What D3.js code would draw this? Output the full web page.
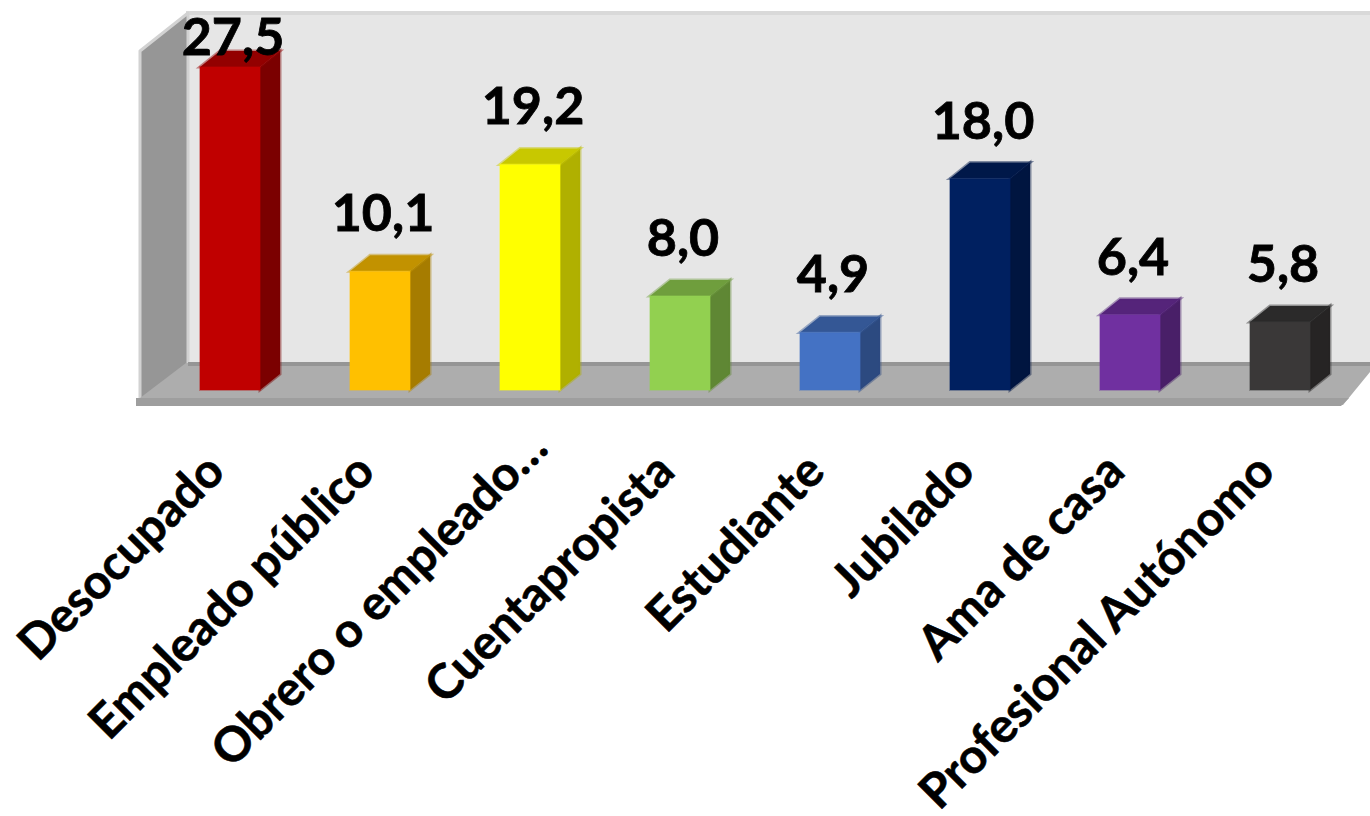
<!DOCTYPE html>
<html>
<head>
<meta charset="utf-8">
<script src="https://cdn.jsdelivr.net/npm/d3@7/dist/d3.min.js"></script>
<style>
  html, body { margin: 0; padding: 0; background: #fff; overflow: hidden; }
  svg { display: block; }
</style>
</head>
<body>
<div id="chart"></div>
<script>
const categories = ["Desocupado", "Empleado público", "Obrero o empleado…", "Cuentapropista", "Estudiante", "Jubilado", "Ama de casa", "Profesional Autónomo"]
const values = [27.5, 10.1, 19.2, 8.0, 4.9, 18.0, 6.4, 5.8]
const frontColors = ["#c00000", "#ffc000", "#ffff00", "#92d050", "#4472c4", "#002060", "#7030a0", "#3a3838"]
const sideColors = ["#7b0000", "#a67c00", "#b0b000", "#5f8734", "#2c4a80", "#001540", "#491f68", "#262424"]
const topColors = ["#930000", "#c29200", "#c8c800", "#6f9e3d", "#345795", "#001849", "#55247a", "#2b2a2a"]

const width = 1370
const height = 816
const dx = 20
const dy = 16

const data = categories.map((c, i) => ({
  category: c, value: values[i], front: frontColors[i], side: sideColors[i], top: topColors[i]
}))

const svg = d3.select("#chart").append("svg")
  .attr("width", width)
  .attr("height", height)

const x = d3.scaleBand()
  .domain(categories)
  .range([155, 1355])
  .paddingInner(0.6)
  .paddingOuter(0.3)

const y = d3.scaleLinear()
  .domain([0, 27.5])
  .range([390, 67])

// Walls and floor
const wall = svg.append("g")
wall.append("rect").attr("x", 186).attr("y", 11).attr("width", 1184).attr("height", 4).attr("fill", "#d9d9d9")
wall.append("rect").attr("x", 188).attr("y", 15).attr("width", 1182).attr("height", 348).attr("fill", "#e6e6e6")
wall.append("path")
  .attr("d", "M140,51 L188,13 L188,365 L140,403 Z")
  .attr("fill", "#969696")
  .attr("stroke", "#d2d2d2")
  .attr("stroke-width", 3)
  .attr("stroke-linejoin", "round")
wall.append("path")
  .attr("d", "M140,398 L186,363 L1370,363 L1370,372 L1343,405 L140,405 Z")
  .attr("fill", "#adadad")
wall.append("rect").attr("x", 188).attr("y", 362).attr("width", 1182).attr("height", 4).attr("fill", "#959595")
wall.append("path")
  .attr("d", "M136,398 L1349,398 L1341,406 L136,406 Z")
  .attr("fill", "#9e9e9e")

// Bars
const bars = svg.append("g").selectAll("g")
  .data(data)
  .join("g")

bars.append("path")
  .attr("fill", d => d.side)
  .attr("stroke", d => d.side)
  .attr("stroke-opacity", 0.45)
  .attr("stroke-width", 3)
  .attr("d", d => {
    const r = x(d.category) + x.bandwidth()
    return `M${r},${y(d.value)} l${dx},${-dy} L${r + dx},${y(0) - dy} L${r},${y(0)} Z`
  })

bars.append("path")
  .attr("fill", d => d.top)
  .attr("stroke", d => d.top)
  .attr("stroke-opacity", 0.45)
  .attr("stroke-width", 3)
  .attr("d", d => {
    const l = x(d.category)
    const r = l + x.bandwidth()
    return `M${l},${y(d.value)} l${dx},${-dy} L${r + dx},${y(d.value) - dy} L${r},${y(d.value)} Z`
  })

bars.append("rect")
  .attr("x", d => x(d.category))
  .attr("y", d => y(d.value))
  .attr("width", x.bandwidth())
  .attr("height", d => y(0) - y(d.value))
  .attr("fill", d => d.front)
  .attr("stroke", d => d.front)
  .attr("stroke-opacity", 0.35)
  .attr("stroke-width", 2)

// Value labels, kept inside the chart area like the tallest one
svg.append("g").selectAll("text")
  .data(data)
  .join("text")
  .attr("x", d => x(d.category) + x.bandwidth() / 2 + 3)
  .attr("y", d => Math.max(55, y(d.value) - 40))
  .attr("text-anchor", "middle")
  .attr("font-family", "Lato, 'Open Sans', sans-serif")
  .attr("font-weight", 700)
  .attr("font-size", "52px")
  .attr("fill", "#000")
  .attr("stroke", "#000")
  .attr("stroke-width", 0.8)
  .text(d => d3.format(".1f")(d.value).replace(".", ","))

// X-axis labels
const xAxisCall = d3.axisBottom(x).tickSize(0)

const xAxis = svg.append("g")
  .attr("transform", "translate(0, 390)")
  .call(xAxisCall)

xAxis.select(".domain").remove()

// the truncated label runs further up past its tick
xAxis.selectAll("text")
  .attr("x", d => d.endsWith("…") ? 33 : 0)
  .attr("y", 0)
  .attr("dy", "0.35em")
  .attr("text-anchor", "end")
  .attr("font-family", "Lato, 'Open Sans', sans-serif")
  .attr("font-weight", 700)
  .attr("font-size", "48px")
  .attr("fill", "#000")
  .attr("stroke", "#000")
  .attr("stroke-width", 0.6)
  .attr("transform", "translate(-15, 72) rotate(-45)")
</script>
</body>
</html>
